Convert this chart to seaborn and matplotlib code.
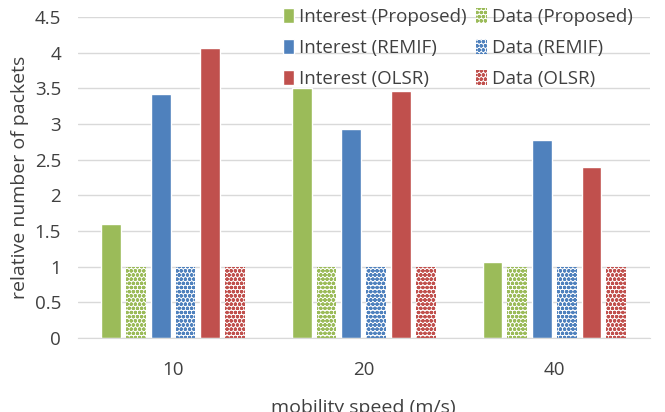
import pandas as pd
import matplotlib.pyplot as plt
import seaborn as sns
from matplotlib.patches import Patch

# === data ===
speeds = ["10", "20", "40"]
series = ["Interest (Proposed)", "Data (Proposed)",
          "Interest (REMIF)", "Data (REMIF)",
          "Interest (OLSR)", "Data (OLSR)"]
interest_proposed = [1.6, 3.5, 1.06]
data_proposed = [1.0, 1.0, 1.0]
interest_remif = [3.42, 2.93, 2.78]
data_remif = [1.0, 1.0, 1.0]
interest_olsr = [4.07, 3.46, 2.4]
data_olsr = [1.0, 1.0, 1.0]

values = [interest_proposed, data_proposed, interest_remif,
          data_remif, interest_olsr, data_olsr]
rows = []
for name, vals in zip(series, values):
    for s, v in zip(speeds, vals):
        rows.append({"speed": s, "series": name, "value": v})
df = pd.DataFrame(rows)

green, blue, red = "#9BBB59", "#4F81BD", "#C0504D"
palette = dict(zip(series, [green, green, blue, blue, red, red]))

sns.set_style("white")
plt.rcParams["font.family"] = ["Open Sans", "DejaVu Sans"]
plt.rcParams["hatch.linewidth"] = 1.2

fig = plt.figure(figsize=(6.65, 4.12), dpi=100)
ax = fig.add_axes([0.117, 0.18, 0.86, 0.779])

sns.barplot(data=df, x="speed", y="value", hue="series", hue_order=series,
            order=speeds, palette=palette, width=0.78, gap=0.2,
            saturation=1, ax=ax, legend=False)

# hatched "Data" bars
for i, cont in enumerate(ax.containers):
    col = palette[series[i]]
    for p in cont:
        if i % 2 == 1:
            p.set_facecolor("white")
            p.set_edgecolor(col)
            p.set_hatch("oooo")
            p.set_linewidth(0)

ax.set_ylim(0, 4.5)
yt = [0, 0.5, 1, 1.5, 2, 2.5, 3, 3.5, 4, 4.5]
ax.set_yticks(yt)
ax.set_yticklabels([f"{t:g}" for t in yt])
ax.yaxis.grid(True, color="#d9d9d9", linewidth=1)
ax.set_axisbelow(True)
for sp in ["top", "right", "left"]:
    ax.spines[sp].set_visible(False)
ax.spines["bottom"].set_color("#d9d9d9")
ax.tick_params(axis="both", length=0, labelsize=13.5, colors="#404040")
ax.tick_params(axis="x", pad=17)
ax.tick_params(axis="y", pad=12)

ax.set_xlabel("mobility speed (m/s)", fontsize=14, color="#404040", labelpad=14)
ax.set_ylabel("relative number of packets", fontsize=14, color="#404040", labelpad=4)

# legend, column-wise: interest first, then data
hs = []
for name in [series[0], series[2], series[4], series[1], series[3], series[5]]:
    if name.startswith("Data"):
        hs.append(Patch(facecolor="white", edgecolor=palette[name], hatch="oooo",
                        linewidth=0, label=name))
    else:
        hs.append(Patch(facecolor=palette[name], label=name))
ax.legend(handles=hs, ncol=2, frameon=False, loc="upper right",
          bbox_to_anchor=(0.99, 1.063), fontsize=13.5, handlelength=0.6,
          handleheight=0.8, handletextpad=0.25, columnspacing=0.5,
          labelspacing=0.7, labelcolor="#404040", borderaxespad=0.2)

fig.savefig("out.png", dpi=100)
